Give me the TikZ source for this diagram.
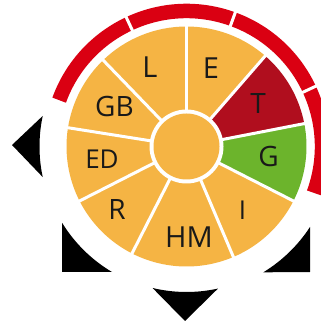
\documentclass[tikz,border=0pt]{standalone}
\usepackage{fontspec}
\setmainfont{Open Sans}
\definecolor{petal}{RGB}{245,180,68}
\definecolor{hot}{RGB}{176,14,30}
\definecolor{good}{RGB}{108,180,44}
\definecolor{rim}{RGB}{218,0,18}
\tikzset{
  spoke/.style={draw=white,line width=3pt},
  lbl/.style={font=\fontsize{#1}{#1}\selectfont,text=black!90,inner sep=0pt},
  marker/.style={fill=black}
}
\newcommand{\petal}[3]{% start angle, end angle, colour
  \fill[#3] (C) -- ++(#1:120) arc[start angle=#1,end angle=#2,radius=120] -- cycle;}
\begin{document}
\begin{tikzpicture}[x=1pt,y=1pt]
\useasboundingbox (0,0) rectangle (321,324);
\clip (0,0) rectangle (321,324);
\fill[white] (0,0) rectangle (321,324);
\coordinate (C) at (186.5,177.5);

% outer red rim, four segments
\draw[rim,line width=14.5pt] (C) ++(160:135.5) arc[start angle=160,end angle=-20,radius=135.5];
\foreach \a in {115,70,25}
  \draw[spoke] (C) ++(\a:126) -- ++(\a:20);

% sectors
\petal{49}{90}{petal}
\petal{90}{134}{petal}
\petal{134}{171}{petal}
\petal{171}{207}{petal}
\petal{207}{243}{petal}
\petal{243}{293}{petal}
\petal{293}{333}{petal}
\petal{-27}{11}{good}
\petal{11}{49}{hot}
\foreach \a in {90,49,11,-27,-67,-117,207,171,134}
  \draw[spoke] (C) -- ++(\a:121);

% hub
\fill[white] (C) circle[radius=37];
\fill[petal] (C) circle[radius=33];

% labels
\node[lbl=29] (nL) at (150,256.5) {L};
\node[lbl=29] (nE) at (211,256) {E};
\node[lbl=28] (nT) at (258,220.5) {T};
\node[lbl=28] (nG) at (268.5,167) {G};
\node[lbl=26] (nI) at (242.5,113.5) {I};
\node[lbl=29] (nHM) at (189,86.5) {HM};
\node[lbl=28] (nR) at (117,114) {R};
\node[lbl=26] (nED) at (102,165) {ED};
\node[lbl=28] (nGB) at (114.5,217.5) {GB};

% black direction markers
\fill[marker] (C) ++(168:147) arc[start angle=168,end angle=192,radius=147]
  -- (12,179) -- cycle;
\fill[marker] (C) ++(256.5:145.5) arc[start angle=256.5,end angle=282.5,radius=145.5]
  -- (185,3) -- cycle;
\fill[marker] (62,52) -- (112,52) arc[start angle=239.3,end angle=211.6,radius=146] -- cycle;
\fill[marker] (310,52) -- (310,97) arc[start angle=-33.1,end angle=-58.6,radius=147.4] -- cycle;
\end{tikzpicture}
\end{document}
